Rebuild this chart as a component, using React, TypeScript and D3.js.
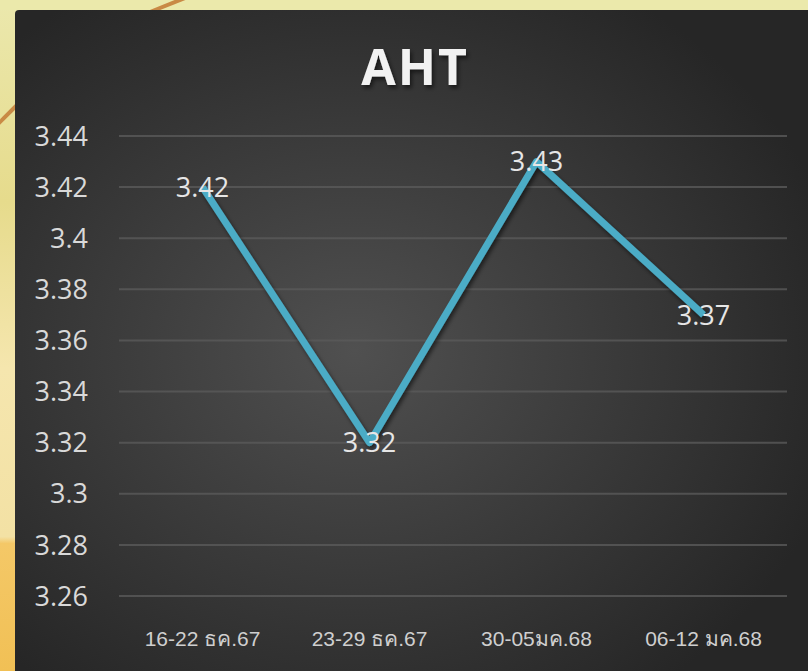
import React, { useEffect, useRef } from "react";
import * as d3 from "d3";

const width = 808;
const height = 671;

const categories = ["16-22 ธค.67", "23-29 ธค.67", "30-05มค.68", "06-12 มค.68"];
const values = [3.42, 3.32, 3.43, 3.37];
const yTicks = [3.26, 3.28, 3.3, 3.32, 3.34, 3.36, 3.38, 3.4, 3.42, 3.44];
const title = "AHT";

const App = () => {
  const ref = useRef<SVGSVGElement>(null);

  useEffect(() => {
    if (!ref.current) return;
    const svg = d3.select(ref.current);
    svg.selectAll("*").remove();

    const defs = svg.append("defs");

    // slide background behind the chart
    const bg = defs.append("linearGradient").attr("id", "bg").attr("x1", 0).attr("y1", 0).attr("x2", 0).attr("y2", 1);
    [
      [0, "#ebe8ad"],
      [0.3, "#e6db8c"],
      [0.55, "#f5e6ae"],
      [0.8, "#f3e1a4"],
      [0.81, "#f4c867"],
      [1, "#f1c055"],
    ].forEach(([o, c]) => bg.append("stop").attr("offset", o as number).attr("stop-color", c as string));

    const panel = defs.append("radialGradient").attr("id", "panel")
      .attr("cx", "0.42").attr("cy", "0.5").attr("r", "0.62");
    panel.append("stop").attr("offset", 0).attr("stop-color", "#505050");
    panel.append("stop").attr("offset", 1).attr("stop-color", "#262626");

    const shadow = defs.append("filter").attr("id", "shadow").attr("x", "-20%").attr("y", "-20%").attr("width", "140%").attr("height", "140%");
    shadow.append("feDropShadow").attr("dx", 2).attr("dy", 3).attr("stdDeviation", 2)
      .attr("flood-color", "#000").attr("flood-opacity", 0.55);

    svg.append("rect").attr("width", width).attr("height", height).attr("fill", "url(#bg)");
    svg.append("rect").attr("width", width).attr("height", 10).attr("fill", "#ebe9ab");
    // brown strokes of the slide art
    svg.append("line").attr("x1", 150).attr("y1", 12).attr("x2", 185).attr("y2", -2)
      .attr("stroke", "#c98a45").attr("stroke-width", 4);
    svg.append("line").attr("x1", -2).attr("y1", 124).attr("x2", 18).attr("y2", 104)
      .attr("stroke", "#c98a45").attr("stroke-width", 4);

    svg.append("rect").attr("x", 15).attr("y", 10).attr("width", width).attr("height", height + 10)
      .attr("rx", 4).attr("fill", "url(#panel)");

    const x = d3.scaleBand<string>().domain(categories).range([119, 787]);
    const y = d3.scaleLinear().domain([3.26, 3.44]).range([596, 136]);
    const cx = (c: string) => (x(c) as number) + x.bandwidth() / 2;
    const fmt = (v: number) => String(+v.toFixed(2));

    // gridlines
    svg.append("g").selectAll("line").data(yTicks).enter().append("line")
      .attr("x1", 119).attr("x2", 787)
      .attr("y1", (d) => y(d)).attr("y2", (d) => y(d))
      .attr("stroke", "#5a5a5a").attr("stroke-width", 2).attr("stroke-opacity", 0.8);

    // y tick labels
    svg.append("g").selectAll("text").data(yTicks).enter().append("text")
      .attr("x", 88).attr("y", (d) => y(d)).attr("dy", "0.36em")
      .attr("text-anchor", "end")
      .style("font-family", "'Open Sans', sans-serif").style("font-size", "27px")
      .attr("fill", "#d9d9d9")
      .text((d) => fmt(d));

    // x labels
    svg.append("g").selectAll("text").data(categories).enter().append("text")
      .attr("x", (d) => cx(d)).attr("y", 646)
      .attr("text-anchor", "middle")
      .style("font-family", "'Liberation Sans', Arial, sans-serif").style("font-size", "21px")
      .attr("fill", "#cfcfcf")
      .text((d) => d);

    // title
    svg.append("text")
      .attr("x", 415).attr("y", 85)
      .attr("text-anchor", "middle")
      .style("font-family", "'Open Sans', sans-serif").style("font-size", "50px").style("font-weight", 700)
      .style("letter-spacing", "2px")
      .attr("fill", "#f2f2f2")
      .attr("filter", "url(#shadow)")
      .text(title);

    // line
    const line = d3.line<number>().x((d, i) => cx(categories[i])).y((d) => y(d));
    svg.append("path").datum(values)
      .attr("d", line)
      .attr("fill", "none")
      .attr("stroke", "#4bacc6").attr("stroke-width", 7)
      .attr("stroke-linejoin", "round")
      .attr("filter", "url(#shadow)");

    // data labels
    svg.append("g").selectAll("text").data(values).enter().append("text")
      .attr("x", (d, i) => cx(categories[i])).attr("y", (d) => y(d)).attr("dy", "0.36em")
      .attr("text-anchor", "middle")
      .style("font-family", "'Open Sans', sans-serif").style("font-size", "27px")
      .attr("fill", "#e6e6e6")
      .text((d) => fmt(d));
  }, []);

  return (
    <svg ref={ref} width={width} height={height}
      style={{ position: "absolute", left: 0, top: 0, display: "block" }} />
  );
};

export default App;
